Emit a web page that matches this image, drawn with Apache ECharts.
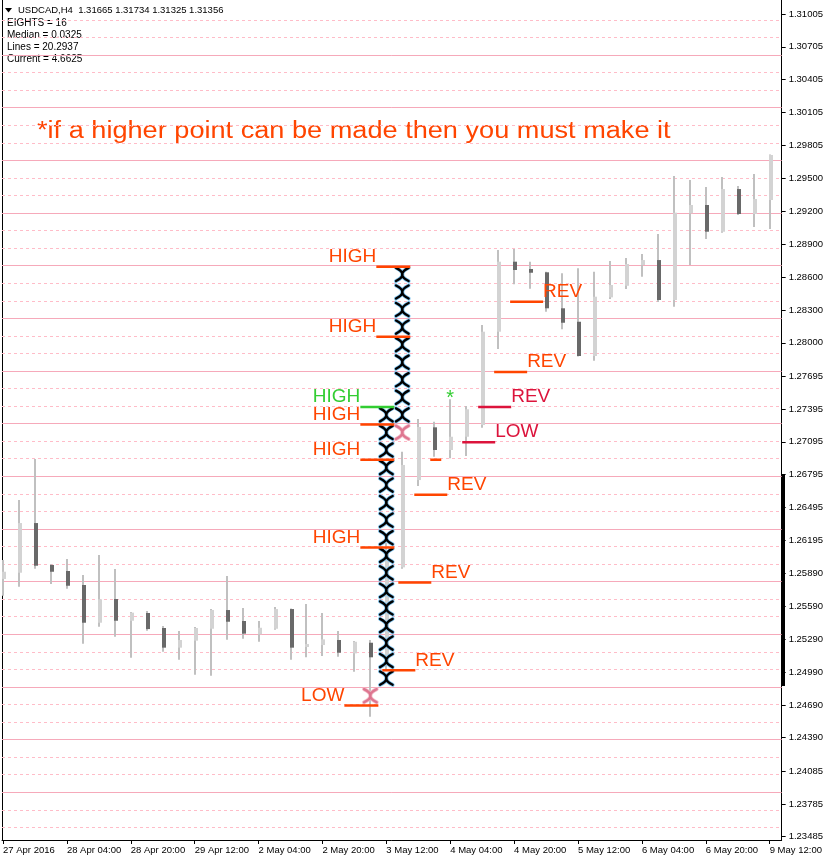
<!DOCTYPE html>
<html>
<head>
<meta charset="utf-8">
<script src="https://cdn.jsdelivr.net/npm/echarts@6.0.0/dist/echarts.min.js"></script>
<style>
html, body { margin: 0; padding: 0; background: #fff; }
#main { width: 826px; height: 862px; }
</style>
</head>
<body>
<div id="main"></div>
<script>
// H4 bars, 27 Apr 12:00 .. 9 May 12:00
var open  = [1.25841,1.25898,1.26352,1.25969,1.25914,1.25786,1.25441,1.25658,1.25459,1.25530,1.25393,1.25213,1.25277,1.25386,1.25557,1.25457,1.25335,1.25386,1.25566,1.25219,1.25237,1.25283,1.25161,1.25258,1.25054,1.25947,1.26745,1.27227,1.27020,1.27141,1.27248,1.28101,1.28741,1.28674,1.28644,1.28315,1.28192,1.27879,1.28415,1.28521,1.28711,1.28756,1.28391,1.29183,1.29259,1.29015,1.29405,1.29177,1.29305];
var high  = [1.26014,1.26563,1.26937,1.25975,1.26023,1.25877,1.26060,1.25932,1.25539,1.25548,1.25411,1.25365,1.25402,1.25566,1.25868,1.25575,1.25457,1.25585,1.25570,1.25612,1.25530,1.25365,1.25274,1.25283,1.26170,1.27004,1.27303,1.27278,1.27483,1.27422,1.28162,1.28848,1.28857,1.28741,1.28649,1.28635,1.28681,1.28649,1.28747,1.28775,1.28811,1.28994,1.29524,1.29488,1.29424,1.29515,1.29433,1.29542,1.29720];
var low   = [1.25688,1.25770,1.25935,1.25795,1.25752,1.25249,1.25405,1.25313,1.25121,1.25368,1.25176,1.25103,1.24966,1.24957,1.25286,1.25295,1.25267,1.25377,1.25103,1.25125,1.25137,1.25130,1.24993,1.24582,1.25009,1.25935,1.26691,1.26958,1.26944,1.26965,1.27224,1.27943,1.28534,1.28494,1.28284,1.28123,1.27875,1.27836,1.28400,1.28491,1.28604,1.28372,1.28330,1.28711,1.28948,1.29006,1.29168,1.29058,1.29040];
var close = [1.25907,1.26352,1.25962,1.25907,1.25779,1.25441,1.25655,1.25459,1.25533,1.25383,1.25213,1.25283,1.25393,1.25557,1.25450,1.25341,1.25395,1.25566,1.25213,1.25246,1.25289,1.25167,1.25267,1.25125,1.26106,1.26883,1.27230,1.27020,1.27141,1.27392,1.28101,1.28741,1.28665,1.28640,1.28315,1.28183,1.27879,1.28421,1.28528,1.28720,1.28756,1.28391,1.29189,1.29259,1.29015,1.29405,1.29177,1.29314,1.29716];

// time axis labels (every 4th bar)
var xLabelBars = [0, 4, 8, 12, 16, 20, 24, 28, 32, 36, 40, 44, 48];
var xLabels = ['27 Apr 2016', '28 Apr 04:00', '28 Apr 20:00', '29 Apr 12:00', '2 May 04:00', '2 May 20:00',
  '3 May 12:00', '4 May 04:00', '4 May 20:00', '5 May 12:00', '6 May 04:00', '6 May 20:00', '9 May 12:00'];

// price scale labels
var yLabels = ['1.31005','1.30705','1.30405','1.30105','1.29805','1.29500','1.29200','1.28900','1.28600',
  '1.28300','1.28000','1.27695','1.27395','1.27095','1.26795','1.26495','1.26195','1.25890','1.25590',
  '1.25290','1.24990','1.24690','1.24390','1.24085','1.23785','1.23485'];

// "eights" levels, top to bottom (every 3rd one is a solid line)
var levels = [1.30951,1.30791,1.30630,1.30470,1.30309,1.30149,1.29988,1.29828,1.29668,1.29507,1.29347,
  1.29186,1.29026,1.28865,1.28705,1.28544,1.28384,1.28224,1.28063,1.27903,1.27742,1.27582,1.27421,
  1.27261,1.27100,1.26940,1.26779,1.26619,1.26459,1.26298,1.26138,1.25977,1.25817,1.25656,1.25496,
  1.25335,1.25175,1.25015,1.24854,1.24694,1.24533,1.24373,1.24212,1.24052,1.23891,1.23731,1.23570];

// X boxes: [bar, level row]
var xBoxes = [[25,14],[25,15],[25,16],[25,17],[25,18],[25,19],[25,20],[25,21],[25,22],
  [24,22],[24,23],[24,24],[24,25],[24,26],[24,27],[24,28],[24,29],[24,30],[24,31],[24,32],
  [24,33],[24,34],[24,35],[24,36],[24,37]];
var fadedBoxes = [[23,38],[25,23]];

// annotations
var noteBar   = [25, 25, 24, 24, 24, 24, 23, 25, 24, 26, 27, 29, 30, 31, 32, 28];
var notePrice = [1.28705,1.28063,1.27421,1.27261,1.26940,1.26138,1.24694,1.25817,1.25015,1.26619,1.26940,1.27100,1.27421,1.27742,1.28384,1.27536];
var noteText  = ['HIGH','HIGH','HIGH','HIGH','HIGH','HIGH','LOW','REV','REV','REV','','LOW','REV','REV','REV','*'];
var noteType  = ['main','main','key','main','main','main','main','main','main','main','main','alt','alt','main','main','key'];
var noteSide  = ['before','before','before','before','before','before','before','after','after','after','after','after','after','after','after','star'];

var noteColors = { main: '#ff4500', key: '#32cd32', alt: '#dc143c' };
var FONT = 'Liberation Sans';

var candles = open.map(function (o, i) { return [i, o, high[i], low[i], close[i]]; });

function renderCandle(params, api) {
  var i = api.value(0);
  var o = api.value(1), h = api.value(2), l = api.value(3), c = api.value(4);
  var pH = api.coord([i, h]), pL = api.coord([i, l]);
  var pO = api.coord([i, o]), pC = api.coord([i, c]);
  var x = Math.round(pH[0]);
  var top = Math.min(pO[1], pC[1]), bot = Math.max(pO[1], pC[1]);
  return {
    type: 'group',
    children: [
      { type: 'rect', shape: { x: x - 1, y: pH[1], width: 2, height: pL[1] - pH[1] }, style: { fill: '#c0c0c0' } },
      { type: 'rect', shape: { x: x - 1, y: top, width: 4, height: Math.max(bot - top, 1.5) },
        style: { fill: c >= o ? '#d3d3d3' : '#696969' } }
    ]
  };
}

// curved X: ")" and "(" meeting in the middle
function boxPath(cx, cy, hw, hh) {
  return 'M' + (cx - hw) + ' ' + (cy - hh) + ' Q' + (cx + 1.05 * hw) + ' ' + cy + ' ' + (cx - hw) + ' ' + (cy + hh) +
    ' M' + (cx + hw) + ' ' + (cy - hh) + ' Q' + (cx - 1.05 * hw) + ' ' + cy + ' ' + (cx + hw) + ' ' + (cy + hh);
}

function makeBoxRenderer(halo, core) {
  return function (params, api) {
    var bar = api.value(0), r = api.value(1);
    var p1 = api.coord([bar, levels[r]]), p2 = api.coord([bar, levels[r + 1]]);
    var cx = p1[0], cy = (p1[1] + p2[1]) / 2;
    var d = boxPath(cx, cy, 6.3, (p2[1] - p1[1]) / 2 - 2.2);
    return {
      type: 'group',
      children: [
        { type: 'path', shape: { pathData: d }, style: { fill: 'none', stroke: halo, lineWidth: 4, lineCap: 'round' } },
        { type: 'path', shape: { pathData: d }, style: { fill: 'none', stroke: core, lineWidth: 2.4, lineCap: 'round' } }
      ]
    };
  };
}

function renderNote(params, api) {
  var k = params.dataIndex;
  var p = api.coord([api.value(0), api.value(1)]);
  var col = noteColors[noteType[k]];
  var txt = noteText[k];
  if (noteSide[k] === 'star') {
    return { type: 'text', style: { text: txt, x: p[0], y: p[1] + 5, align: 'center', verticalAlign: 'middle',
      fill: col, font: '20px "' + FONT + '"' } };
  }
  var ly = p[1] + 1;
  var x1, x2, tx, align;
  if (noteSide[k] === 'before') {
    x1 = p[0] - 26; x2 = p[0] + 8; tx = x1; align = 'right';
  } else {
    x1 = p[0] - 4; x2 = x1 + (txt ? 33 : 11); tx = x2; align = 'left';
  }
  return {
    type: 'group',
    children: [
      { type: 'rect', shape: { x: x1, y: ly - 1.25, width: x2 - x1, height: 2.5 }, style: { fill: col } },
      { type: 'text', style: { text: txt, x: tx, y: ly - 10, align: align, verticalAlign: 'middle',
        fill: col, font: '19px "' + FONT + '"' } }
    ]
  };
}

var levelLines = levels.map(function (v, i) {
  var solid = (i % 3) === 2;
  return { yAxis: v, lineStyle: { color: solid ? '#f6a9ba' : '#ffbcc8', width: 1, type: solid ? 'solid' : [3, 3] } };
});

var option = {
  animation: false,
  backgroundColor: '#ffffff',
  grid: { left: 2, right: 43, top: 0, bottom: 22 },
  xAxis: {
    type: 'value',
    min: -0.0625,
    max: 48.75,
    axisLine: { show: true, onZero: false, lineStyle: { color: '#000', width: 1 } },
    axisTick: { show: true, length: 4, customValues: xLabelBars, lineStyle: { color: '#000' } },
    axisLabel: {
      customValues: xLabelBars,
      formatter: function (v) { var i = xLabelBars.indexOf(Math.round(v)); return i < 0 ? '' : xLabels[i]; },
      align: 'left', margin: 5, color: '#000', fontSize: 9.5, fontFamily: FONT
    },
    splitLine: { show: false }
  },
  yAxis: {
    type: 'value',
    position: 'right',
    min: 1.23455,
    max: 1.31133,
    axisLine: { show: true, onZero: false, lineStyle: { color: '#000', width: 1 } },
    axisTick: { show: true, length: 4, customValues: yLabels.map(Number), lineStyle: { color: '#000' } },
    axisLabel: {
      customValues: yLabels.map(Number),
      formatter: function (v) { return v.toFixed(5); },
      margin: 7, color: '#000', fontSize: 9.5, fontFamily: FONT
    },
    splitLine: { show: false }
  },
  series: [
    {
      name: 'levels', type: 'line', data: [], z: 1, silent: true,
      markLine: { symbol: 'none', silent: true, z: 1, precision: 6, label: { show: false }, animation: false, data: levelLines }
    },
    {
      name: 'USDCAD', type: 'custom', z: 3, renderItem: renderCandle,
      encode: { x: 0, y: [1, 2, 3, 4] }, data: candles
    },
    {
      name: 'boxes', type: 'custom', z: 4, renderItem: makeBoxRenderer('#7fc4ef', '#000000'),
      encode: { x: 0, y: 1 }, data: xBoxes
    },
    {
      name: 'faded', type: 'custom', z: 4, renderItem: makeBoxRenderer('rgba(240,175,190,0.8)', 'rgba(215,95,125,0.75)'),
      encode: { x: 0, y: 1 }, data: fadedBoxes
    },
    {
      name: 'notes', type: 'custom', z: 6, renderItem: renderNote,
      encode: { x: 0, y: 1 }, data: noteBar.map(function (b, i) { return [b, notePrice[i]]; })
    }
  ],
  graphic: [
    { type: 'rect', shape: { x: 2, y: 0, width: 1, height: 840 }, style: { fill: '#000' } },
    { type: 'rect', shape: { x: 782, y: 475, width: 3, height: 211 }, style: { fill: '#000' } },
    { type: 'polygon', shape: { points: [[5, 8], [12, 8], [8.5, 12.5]] }, style: { fill: '#000' } },
    { type: 'text', x: 18, y: 10, style: { text: 'USDCAD,H4  1.31665 1.31734 1.31325 1.31356', fill: '#000',
      font: '9.5px "' + FONT + '"', verticalAlign: 'middle' } },
    { type: 'text', x: 7, y: 23.5, style: { text: 'EIGHTS = 16', fill: '#000', font: '10px "' + FONT + '"', verticalAlign: 'middle' } },
    { type: 'text', x: 7, y: 35.5, style: { text: 'Median = 0.0325', fill: '#000', font: '10px "' + FONT + '"', verticalAlign: 'middle' } },
    { type: 'text', x: 7, y: 47.5, style: { text: 'Lines = 20.2937', fill: '#000', font: '10px "' + FONT + '"', verticalAlign: 'middle' } },
    { type: 'text', x: 7, y: 59.5, style: { text: 'Current = 4.6625', fill: '#000', font: '10px "' + FONT + '"', verticalAlign: 'middle' } },
    { type: 'text', x: 37, y: 132, scaleX: 1.18, style: { text: '*if a higher point can be made then you must make it',
      fill: '#ff4500', font: '23px "' + FONT + '"', verticalAlign: 'middle' } }
  ]
};

var myChart = echarts.init(document.getElementById('main'));
myChart.setOption(option);
</script>
</body>
</html>
